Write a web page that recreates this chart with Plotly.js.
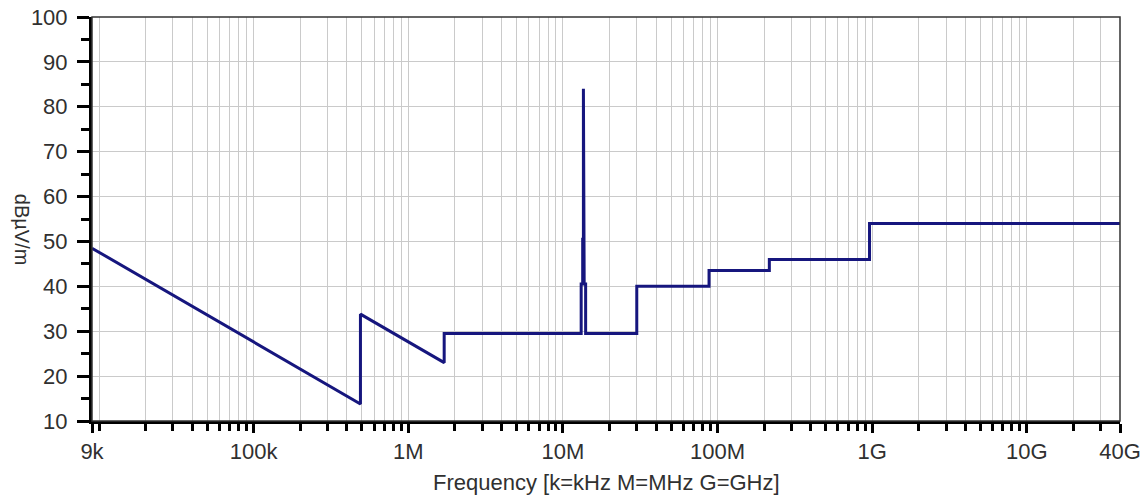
<!DOCTYPE html>
<html>
<head>
<meta charset="utf-8">
<script src="https://cdn.plot.ly/plotly-3.0.1.min.js"></script>
<style>
  html, body { margin: 0; padding: 0; background: #ffffff; }
  #chart { width: 1143px; height: 497px; }
</style>
</head>
<body>
<div id="chart"></div>
<script>
// Limit line breakpoints (frequency in Hz, level in dBµV/m)
var freqHz = [9e3, 490e3, 490e3, 1.705e6, 1.705e6, 13.11e6, 13.11e6, 13.41e6, 13.41e6, 13.553e6, 13.553e6,
              13.567e6, 13.567e6, 13.71e6, 13.71e6, 14.01e6, 14.01e6, 30e6, 30e6, 88e6, 88e6,
              216e6, 216e6, 960e6, 960e6, 40e9];
var levelDb = [48.5, 13.8, 33.8, 23.0, 29.5, 29.5, 40.5, 40.5, 50.5, 50.5, 84.0,
               84.0, 50.5, 50.5, 40.5, 40.5, 29.5, 29.5, 40.0, 40.0, 43.5,
               43.5, 46.0, 46.0, 54.0, 54.0];

// Axis tick labels
var xTickVals = [9e3, 1e5, 1e6, 1e7, 1e8, 1e9, 1e10, 4e10];
var xTickText = ['9k', '100k', '1M', '10M', '100M', '1G', '10G', '40G'];
var yTickVals = [10, 20, 30, 40, 50, 60, 70, 80, 90, 100];
var yTitle = 'dBµV/m';
var xTitle = 'Frequency [k=kHz M=MHz G=GHz]';

// minor tick positions: every digit of each decade
var xMinorVals = [];
for (var e = 4; e <= 10; e++) {
  for (var d = 1; d <= 9; d++) {
    var v = d * Math.pow(10, e);
    if (v > 9e3 && v < 4e10) xMinorVals.push(v);
  }
}

var fontFam = '"Liberation Sans", Arial, "DejaVu Sans", sans-serif';
var txtCol = '#303030';
var gridCol = '#cacaca';

var trace = {
  x: freqHz,
  y: levelDb,
  type: 'scatter',
  mode: 'lines',
  line: { color: '#16167e', width: 3 },
  hoverinfo: 'skip'
};

var layout = {
  width: 1143,
  height: 497,
  margin: { l: 92, r: 23, t: 17, b: 76 },
  paper_bgcolor: '#ffffff',
  plot_bgcolor: '#ffffff',
  showlegend: false,
  font: { family: fontFam, size: 22, color: txtCol },
  xaxis: {
    type: 'log',
    range: [Math.log10(9e3), Math.log10(4e10)],
    tickmode: 'array',
    tickvals: xTickVals,
    ticktext: xTickText,
    ticks: 'outside',
    ticklen: 9,
    tickwidth: 3,
    tickcolor: '#000000',
    ticklabelstandoff: 0,
    showline: true,
    linewidth: 3,
    linecolor: '#000000',
    showgrid: true,
    gridcolor: gridCol,
    gridwidth: 1,
    zeroline: false,
    tickfont: { family: fontFam, size: 22, color: txtCol },
    minor: {
      tickmode: 'array',
      tickvals: xMinorVals,
      ticks: 'outside',
      ticklen: 7,
      tickwidth: 3,
      tickcolor: '#000000',
      showgrid: true,
      gridcolor: gridCol,
      gridwidth: 1
    },
    fixedrange: true
  },
  yaxis: {
    range: [10, 100],
    tickmode: 'array',
    tickvals: yTickVals,
    ticks: 'outside',
    ticklen: 12,
    tickwidth: 3,
    tickcolor: '#000000',
    ticklabelstandoff: 5,
    showline: true,
    linewidth: 3,
    linecolor: '#000000',
    showgrid: true,
    gridcolor: gridCol,
    gridwidth: 1,
    zeroline: false,
    tickfont: { family: fontFam, size: 22, color: txtCol },
    minor: {
      dtick: 5,
      tick0: 5,
      ticks: 'outside',
      ticklen: 8,
      tickwidth: 3,
      tickcolor: '#000000',
      showgrid: false
    },
    fixedrange: true
  },
  annotations: [{
    text: yTitle,
    xref: 'paper', yref: 'paper',
    x: -0.068, y: 0.473,
    xanchor: 'center', yanchor: 'middle',
    textangle: 90,
    showarrow: false,
    font: { family: fontFam, size: 20, color: txtCol }
  }, {
    text: xTitle,
    xref: 'paper', yref: 'paper',
    x: 0.5, y: -0.152,
    xanchor: 'center', yanchor: 'middle',
    showarrow: false,
    font: { family: fontFam, size: 22, color: txtCol }
  }],
  shapes: [{
    type: 'rect', xref: 'paper', yref: 'paper',
    x0: 0, x1: 1, y0: 0, y1: 1,
    line: { color: '#333333', width: 1.5 },
    fillcolor: 'rgba(0,0,0,0)',
    layer: 'above'
  }]
};

Plotly.newPlot('chart', [trace], layout, { displayModeBar: false, staticPlot: true });
</script>
</body>
</html>
